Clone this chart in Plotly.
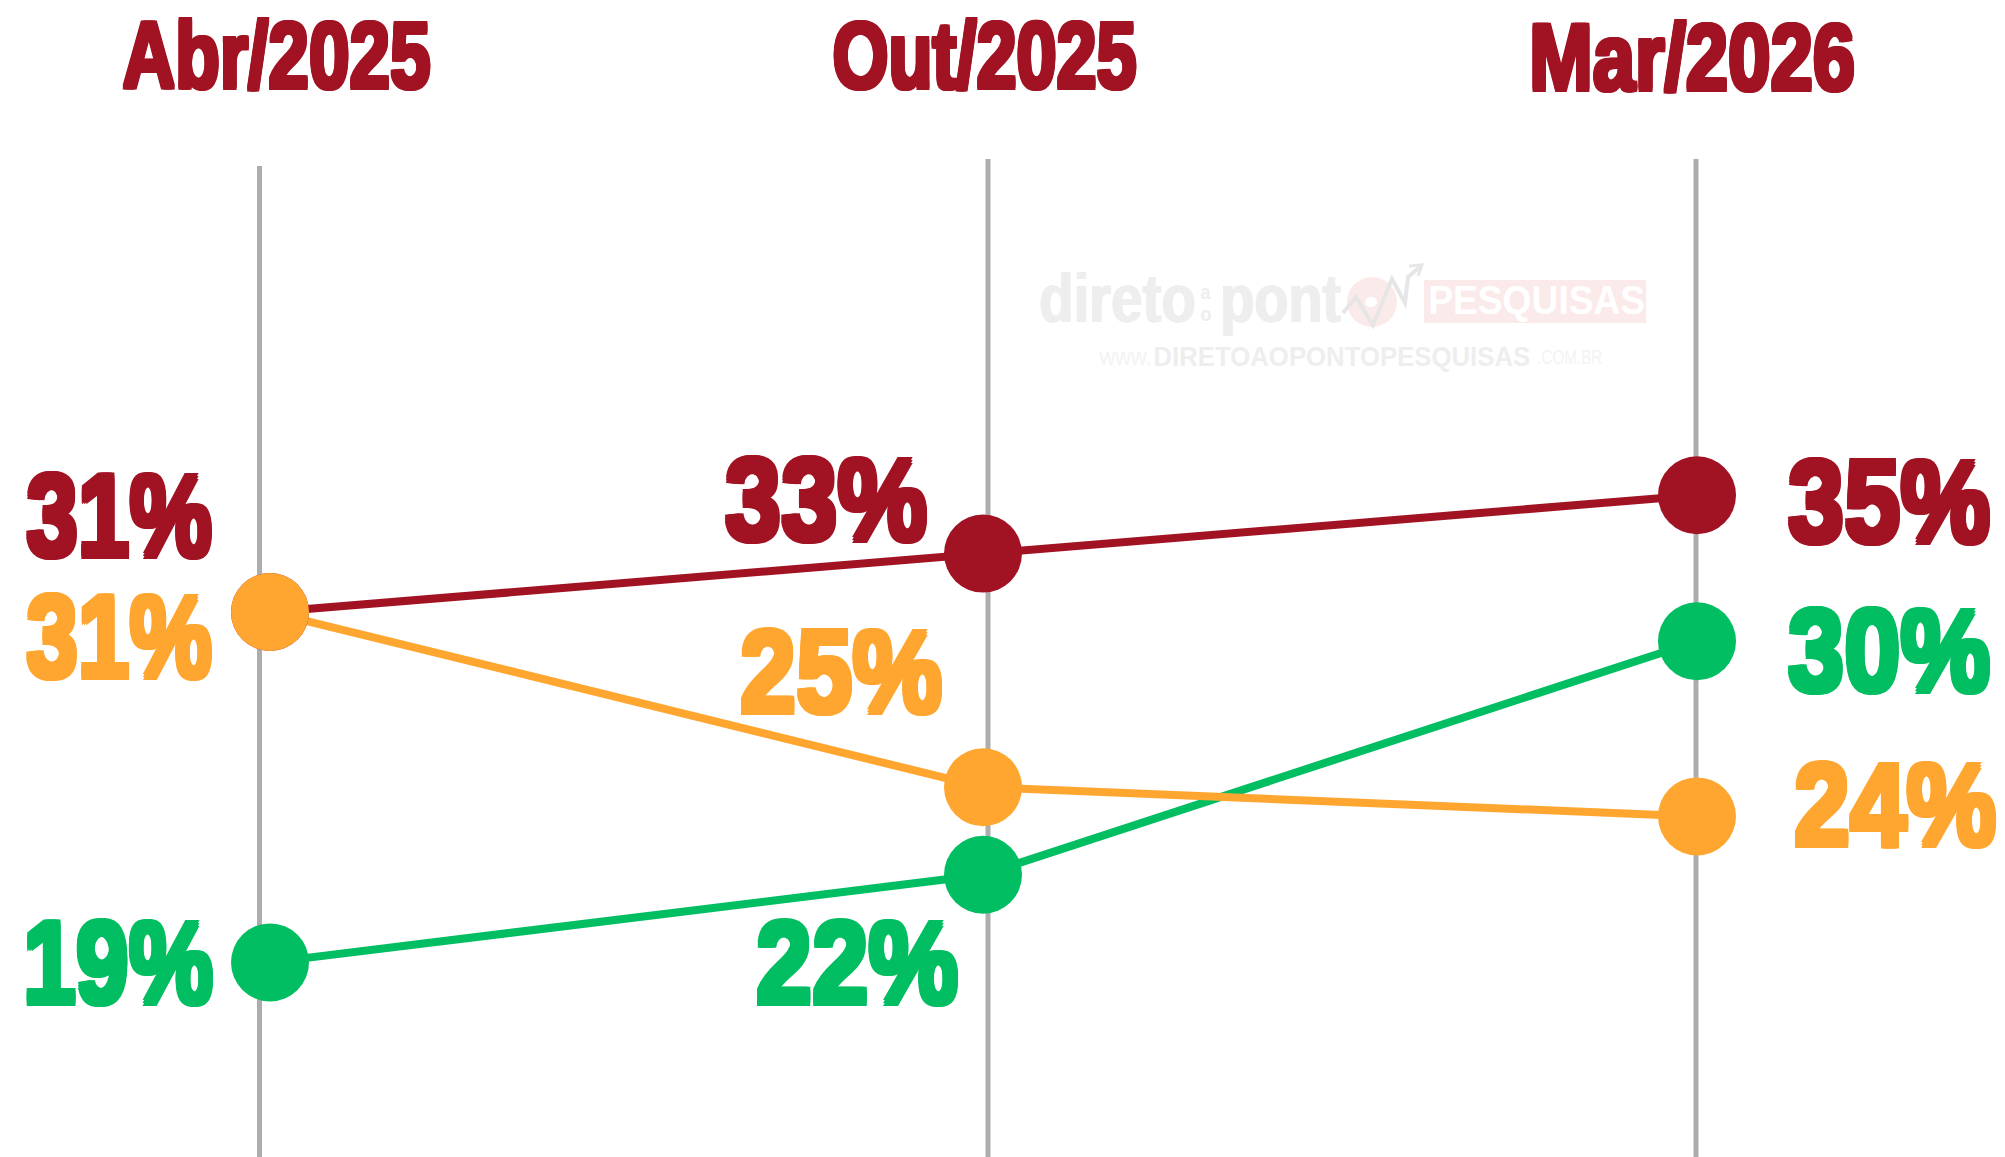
import json
import plotly.graph_objects as go

W, H = 2005, 1157
periods = ["Abr/2025", "Out/2025", "Mar/2026"]
period_pos = [270, 983, 1697]
series_a = [31, 33, 35]
series_b = [31, 25, 24]
series_c = [19, 22, 30]
MAROON, ORANGE, GREEN, GRID = "#A11323", "#FFA630", "#00BE61", "#ADADAD"
FONT = "Liberation Sans"

def py(y):
    return 1 - y / H

def heavy(color, size, r=2):
    sh = ", ".join(f"{dx}px {dy}px 0 {color}" for dx, dy in
                   [(r, 0), (-r, 0), (0, r), (0, -r), (r, r), (-r, r), (r, -r), (-r, -r)])
    return dict(family=FONT, size=size, color=color, weight=700, shadow=sh)

fig = go.Figure()
for vals, col in [(series_a, MAROON), (series_c, GREEN), (series_b, ORANGE)]:
    fig.add_trace(go.Scatter(x=period_pos, y=vals, mode="lines",
                             line=dict(color=col, width=8), hoverinfo="skip"))
for vals, col in [(series_a, MAROON), (series_c, GREEN), (series_b, ORANGE)]:
    fig.add_trace(go.Scatter(x=period_pos, y=vals, mode="markers",
                             marker=dict(color=col, size=78, line=dict(width=0)), hoverinfo="skip"))

shapes = []
for gx, top in [(259.5, 166), (988, 159), (1696, 159)]:
    shapes.append(dict(type="line", xref="x", yref="paper", x0=gx, x1=gx, y0=py(top), y1=0,
                       line=dict(color=GRID, width=5), layer="below"))

# watermark
PINK, WM = "#FBEAEA", "#EEEEEE"
shapes.append(dict(type="rect", xref="x", yref="paper", x0=1427, x1=1643, y0=py(320), y1=py(283),
                   fillcolor=PINK, line=dict(color=PINK, width=6), layer="below"))
shapes.append(dict(type="circle", xref="x", yref="paper", x0=1347, x1=1397, y0=py(327), y1=py(277),
                   fillcolor=PINK, line=dict(width=0), layer="below"))
shapes.append(dict(type="circle", xref="x", yref="paper", x0=1365, x1=1377, y0=py(307), y1=py(297),
                   fillcolor="#ffffff", line=dict(width=0), layer="below"))
pts = [(1343, 313), (1356, 297), (1373, 325), (1392, 279), (1405, 303), (1408, 277), (1421, 266)]
shapes.append(dict(type="path", xref="x", yref="paper",
                   path="M " + " L ".join(f"{x},{py(y)}" for x, y in pts),
                   line=dict(color="#E6E6E6", width=4), layer="below"))
head = [(1409, 266), (1422, 265), (1418, 276)]
shapes.append(dict(type="path", xref="x", yref="paper",
                   path="M " + " L ".join(f"{x},{py(y)}" for x, y in head),
                   line=dict(color="#E6E6E6", width=3), layer="below"))

anns, scales = [], []
def text(t, x, y, font, sx):
    anns.append(dict(text=t, x=x, y=py(y), xref="x", yref="paper", showarrow=False,
                     xanchor="center", yanchor="middle", font=font))
    scales.append(sx)

for t, x, y, sx in zip(periods, [276, 984, 1692], [55, 55, 58], [0.776, 0.766, 0.81]):
    text(t, x, y, heavy(MAROON, 94, 2), sx)

labels = [("31%", 119, 516, MAROON, .80), ("31%", 119, 637, ORANGE, .80), ("19%", 118, 963, GREEN, .82),
          ("33%", 826, 500, MAROON, .873), ("25%", 841, 672, ORANGE, .873), ("22%", 857, 963, GREEN, .873),
          ("35%", 1889, 502, MAROON, .873), ("30%", 1889, 651, GREEN, .873), ("24%", 1895, 805, ORANGE, .873)]
for t, x, y, c, sx in labels:
    text(t, x, y, heavy(c, 116, 2.5), sx)

wm_bold = dict(family=FONT, size=68, color=WM, weight=700, shadow=f"1px 0 0 {WM}, -1px 0 0 {WM}")
text("direto", 1117, 298, wm_bold, .83)
text("pont", 1280, 298, wm_bold, .82)
text("a", 1206, 292, dict(family=FONT, size=20, color=WM, weight=700), .9)
text("o", 1206, 314, dict(family=FONT, size=20, color=WM, weight=700), .9)
text("PESQUISAS", 1536, 300, dict(family=FONT, size=40, color="#FFFFFF", weight=700), .93)
text("www.", 1125, 356, dict(family=FONT, size=24, color="#F3F3F3"), .91)
text("DIRETOAOPONTOPESQUISAS", 1342, 356, dict(family=FONT, size=28, color=WM, weight=700), .92)
text(".COM.BR", 1570, 357, dict(family=FONT, size=20, color="#F3F3F3"), .76)

fig.update_layout(width=W, height=H, autosize=False, margin=dict(l=0, r=0, t=0, b=0),
                  paper_bgcolor="#ffffff", plot_bgcolor="#ffffff", showlegend=False,
                  shapes=shapes, annotations=anns,
                  xaxis=dict(range=[0, W], visible=False, fixedrange=True),
                  yaxis=dict(range=[12.335, 51.96], visible=False, fixedrange=True))
js = """
document.body.style.margin='0';document.body.style.overflow='hidden';
var sx=%s;
function squeeze(){document.querySelectorAll('.annotation .annotation-text').forEach(function(el,i){
 el.style.transformBox='fill-box';el.style.transformOrigin='center';
 el.style.transform='scaleX('+sx[i]+')';});}
squeeze();setTimeout(squeeze,50);
""" % json.dumps(scales)
fig.write_html("out.html", config=dict(displayModeBar=False), post_script=js)
